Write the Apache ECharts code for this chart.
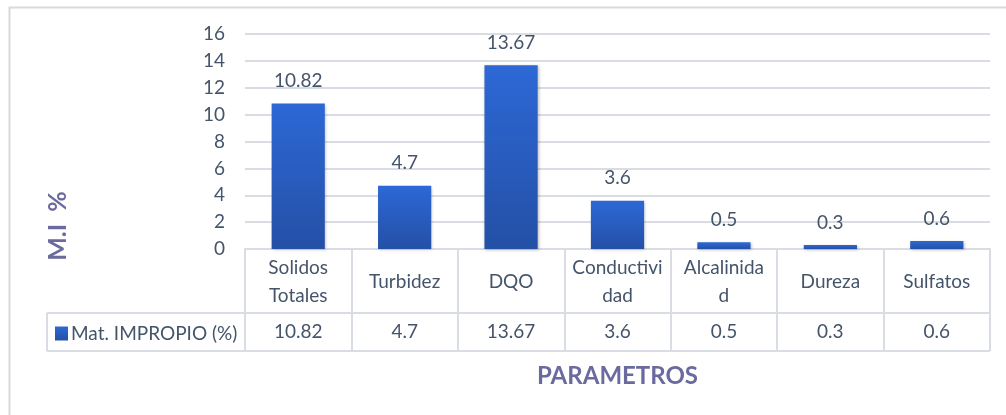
<!DOCTYPE html>
<html>
<head>
<meta charset="utf-8">
<script src="https://cdn.jsdelivr.net/npm/echarts@6/dist/echarts.min.js"></script>
<style>
html,body{margin:0;padding:0;background:#fff;}
#c{width:1006px;height:415px;}
</style>
</head>
<body>
<div id="c"></div>
<script>
var categories = ['Solidos\nTotales', 'Turbidez', 'DQO', 'Conductivi\ndad', 'Alcalinida\nd', 'Dureza', 'Sulfatos'];
var values = [10.82, 4.7, 13.67, 3.6, 0.5, 0.3, 0.6];
var seriesName = 'Mat. IMPROPIO (%)';
var yTitle = 'M.I  %';
var xTitle = 'PARAMETROS';

var FONT = 'Lato';
var TXT = '#44546A';
var LINE = '#D9DDE3';
var TITLE = '#6A6A9E';

var chart = echarts.init(document.getElementById('c'), null, {renderer: 'canvas'});
var option = {
  animation: false,
  backgroundColor: '#fff',
  textStyle: {fontFamily: FONT},
  grid: {left: 245, right: 16, top: 34, bottom: 166, containLabel: false},
  legend: {
    show: true,
    left: 50, top: 319,
    icon: 'rect',
    itemWidth: 13, itemHeight: 14, itemGap: 5,
    textStyle: {fontFamily: FONT, fontSize: 19, color: TXT, padding: [0, 0, 0, -2]},
    selectedMode: false,
    data: [seriesName]
  },
  xAxis: [{
    type: 'category',
    data: categories,
    position: 'bottom',
    axisLine: {show: true, lineStyle: {color: LINE, width: 2}},
    axisTick: {show: true, length: 102, lineStyle: {color: LINE, width: 2}},
    axisLabel: {
      interval: 0, fontFamily: FONT, fontSize: 19, color: TXT,
      lineHeight: 28, margin: 33, verticalAlign: 'middle', align: 'center'
    },
    splitLine: {show: false}
  }, {
    type: 'category',
    data: categories,
    position: 'bottom',
    offset: 64,
    axisLine: {show: true, lineStyle: {color: LINE, width: 2}},
    axisTick: {show: false},
    axisLabel: {
      interval: 0, fontFamily: FONT, fontSize: 19, color: TXT,
      margin: 19, verticalAlign: 'middle', align: 'center',
      formatter: function (v, i) { return String(values[i]); }
    },
    splitLine: {show: false}
  }],
  yAxis: {
    type: 'value',
    min: 0, max: 16, interval: 2,
    axisLine: {show: false},
    axisTick: {show: false},
    axisLabel: {fontFamily: FONT, fontSize: 19, color: TXT, margin: 20},
    splitLine: {show: true, lineStyle: {color: LINE, width: 2}}
  },
  series: [{
    name: seriesName,
    type: 'bar',
    xAxisIndex: 0,
    data: values,
    barWidth: '50%',
    itemStyle: {
      color: new echarts.graphic.LinearGradient(0, 0, 0, 1, [
        {offset: 0, color: '#2D68D6'},
        {offset: 1, color: '#2450A6'}
      ]),
      shadowBlur: 3, shadowColor: 'rgba(0,0,0,0.25)', shadowOffsetX: 1, shadowOffsetY: 1
    },
    label: {
      show: true, position: 'top', distance: 13,
      fontFamily: FONT, fontSize: 19, color: TXT
    }
  }]
};
chart.setOption(option);

function addFrame() {
  var n = categories.length;
  var y0 = chart.convertToPixel({yAxisIndex: 0}, 0);
  var xFirst = chart.convertToPixel({xAxisIndex: 0}, 0);
  var xLast = chart.convertToPixel({xAxisIndex: 0}, n - 1);
  var band = (xLast - xFirst) / (n - 1);
  var xL = xFirst - band / 2;
  var xR = xLast + band / 2;
  var yMid = y0 + 64;
  var yBot = y0 + 102;
  var xHead = 47;
  var ls = {stroke: LINE, lineWidth: 2};
  chart.setOption({
    graphic: [
      {type: 'rect', shape: {x: 9.5, y: 7.5, width: 1010, height: 420}, style: {fill: null, stroke: '#D9D9D9', lineWidth: 2}, silent: true, z: -1},
      {type: 'line', shape: {x1: xHead, y1: yMid, x2: xL, y2: yMid}, style: ls, silent: true},
      {type: 'line', shape: {x1: xHead, y1: yBot, x2: xR, y2: yBot}, style: ls, silent: true},
      {type: 'line', shape: {x1: xHead, y1: yMid, x2: xHead, y2: yBot}, style: ls, silent: true},
      {type: 'text', x: 58, y: 226, rotation: Math.PI / 2, style: {text: yTitle, x: 0, y: 0, align: 'center', verticalAlign: 'middle', fontFamily: FONT, fontSize: 25, fontWeight: 'bold', fill: TITLE}, silent: true},
      {type: 'text', style: {text: xTitle, x: (xL + xR) / 2, y: 376, align: 'center', verticalAlign: 'middle', fontFamily: FONT, fontSize: 24, fontWeight: 'bold', fill: TITLE}, silent: true}
    ]
  });
}
addFrame();
</script>
</body>
</html>
